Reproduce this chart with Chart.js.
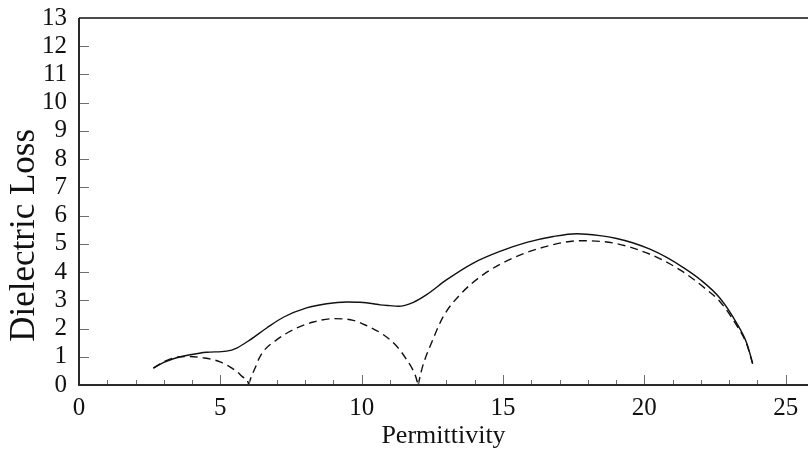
<!DOCTYPE html>
<html>
<head>
<meta charset="utf-8">
<script src="https://cdn.jsdelivr.net/npm/chart.js@4"></script>
<style>
  html, body { margin: 0; padding: 0; background: #ffffff; }
  #wrap { width: 808px; height: 455px; }
  .fontprobe { position: absolute; left: -9999px; font-family: 'Liberation Serif'; }
</style>
</head>
<body>
<span class="fontprobe">0123456789 Permittivity Dielectric Loss</span>
<div id="wrap"><canvas id="c" width="808" height="455"></canvas></div>
<script>
// Cole-Cole plot: total response (solid) and its three relaxation arcs (dashed)
const totalX = [2.63, 3.00, 3.34, 3.93, 4.52, 5.22, 5.58, 6.05, 6.64, 7.23, 8.05, 8.76, 9.47, 9.94, 10.41, 10.65, 11.00, 11.30, 11.83, 12.30, 13.01, 13.95, 14.89, 15.84, 16.78, 17.61, 18.43, 19.02, 19.61, 20.20, 20.79, 21.38, 21.97, 22.67, 23.26, 23.62, 23.83];
const totalY = [0.60, 0.80, 0.93, 1.07, 1.16, 1.20, 1.31, 1.60, 2.02, 2.40, 2.73, 2.88, 2.94, 2.93, 2.88, 2.84, 2.81, 2.79, 2.93, 3.20, 3.73, 4.32, 4.73, 5.05, 5.26, 5.36, 5.29, 5.19, 5.03, 4.81, 4.52, 4.16, 3.74, 3.08, 2.20, 1.49, 0.78];

const arc1X = [2.63, 3.00, 3.34, 3.81, 4.40, 4.99, 5.58, 5.80, 5.99, 6.00];
const arc1Y = [0.60, 0.82, 0.96, 1.01, 0.96, 0.82, 0.48, 0.28, 0.07, 0.00];

const arc2X = [6.00, 6.08, 6.23, 6.35, 6.52, 6.99, 7.58, 8.29, 9.00, 9.70, 10.18, 10.77, 11.24, 11.59, 11.89, 12.00];
const arc2Y = [0.00, 0.25, 0.60, 0.90, 1.19, 1.60, 1.96, 2.23, 2.35, 2.29, 2.10, 1.78, 1.37, 0.90, 0.36, 0.00];

const arc3X = [12.00, 12.10, 12.20, 12.42, 12.89, 13.48, 14.30, 15.36, 16.54, 17.72, 18.90, 20.08, 21.26, 22.20, 22.67, 23.26, 23.62, 23.83];
const arc3Y = [0.00, 0.45, 0.80, 1.37, 2.43, 3.20, 3.91, 4.50, 4.91, 5.11, 5.03, 4.68, 4.08, 3.38, 2.96, 2.12, 1.45, 0.75];

const xTicks = [0, 5, 10, 15, 20, 25];
const yTicks = [0, 1, 2, 3, 4, 5, 6, 7, 8, 9, 10, 11, 12, 13];

const xTitle = 'Permittivity';
const yTitle = 'Dielectric Loss';

function pts(xs, ys) { return xs.map((x, i) => ({ x: x, y: ys[i] })); }

const FONT = "'Liberation Serif', 'Times New Roman', Times, serif";

const lineStyle = {
  showLine: true,
  pointRadius: 0,
  borderColor: '#111111',
  borderWidth: 1.4,
  fill: false,
  cubicInterpolationMode: 'monotone'
};
const DASH = [8, 5];

// Frame: heavy left/bottom axes, top rule, inward ticks, vertical axis title
const framePlugin = {
  id: 'frame',
  afterDatasetsDraw(chart) {
    const { ctx, chartArea: a, scales } = chart;
    const xs = scales.x, ys = scales.y;
    ctx.save();
    ctx.lineCap = 'butt';
    ctx.strokeStyle = '#6e6e6e';
    ctx.lineWidth = 1;
    for (let v = 1; v <= 25; v++) {
      const px = Math.round(xs.getPixelForValue(v)) + 0.5;
      const len = (v % 5 === 0) ? 10 : 5;
      ctx.beginPath();
      ctx.moveTo(px, a.bottom);
      ctx.lineTo(px, a.bottom - len);
      ctx.stroke();
    }
    yTicks.forEach(v => {
      if (v === 0 || v === 13) return;
      const py = Math.round(ys.getPixelForValue(v)) + 0.5;
      ctx.beginPath();
      ctx.moveTo(a.left, py);
      ctx.lineTo(a.left + 10, py);
      ctx.stroke();
    });
    ctx.strokeStyle = '#2a2a2a';
    ctx.lineWidth = 2;
    ctx.beginPath();
    ctx.moveTo(a.left, a.top);
    ctx.lineTo(a.left, a.bottom);
    ctx.lineTo(a.right, a.bottom);
    ctx.stroke();
    ctx.strokeStyle = '#111111';
    ctx.lineWidth = 1.5;
    ctx.beginPath();
    ctx.moveTo(a.left, a.top);
    ctx.lineTo(a.right, a.top);
    ctx.stroke();

    // vertical axis title, centred a little below the middle of the axis
    ctx.fillStyle = '#111111';
    ctx.font = '35px ' + FONT;
    ctx.textAlign = 'center';
    ctx.textBaseline = 'alphabetic';
    ctx.translate(34, ys.getPixelForValue(5.3));
    ctx.rotate(-Math.PI / 2);
    ctx.fillText(yTitle, 0, 0);
    ctx.restore();
  }
};

function draw() {
  new Chart(document.getElementById('c'), {
    type: 'scatter',
    data: {
      datasets: [
        Object.assign({ label: 'Total', data: pts(totalX, totalY) }, lineStyle),
        Object.assign({ label: 'Arc 1', data: pts(arc1X, arc1Y) }, lineStyle, { borderDash: DASH }),
        Object.assign({ label: 'Arc 2', data: pts(arc2X, arc2Y) }, lineStyle, { borderDash: DASH }),
        Object.assign({ label: 'Arc 3', data: pts(arc3X, arc3Y) }, lineStyle, { borderDash: DASH })
      ]
    },
    options: {
      responsive: false,
      animation: false,
      events: [],
      layout: { padding: { top: 18, right: 0, bottom: 0, left: 0 } },
      plugins: { legend: { display: false }, tooltip: { enabled: false } },
      scales: {
        x: {
          type: 'linear',
          min: 0,
          max: 25.79,
          grid: { display: false, drawTicks: false },
          border: { display: false },
          afterBuildTicks(scale) { scale.ticks = xTicks.map(v => ({ value: v })); },
          ticks: { color: '#111', font: { family: FONT, size: 25 }, padding: 8, maxRotation: 0, autoSkip: false },
          title: { display: true, text: xTitle, color: '#111', font: { family: FONT, size: 26 }, padding: { top: 0, bottom: 3 } },
          afterFit(scale) { scale.height = 70; scale.paddingLeft = 0; scale.paddingRight = 0; }
        },
        y: {
          type: 'linear',
          min: 0,
          max: 13,
          grid: { display: false, drawTicks: false },
          border: { display: false },
          afterBuildTicks(scale) { scale.ticks = yTicks.map(v => ({ value: v })); },
          ticks: { color: '#111', font: { family: FONT, size: 25 }, padding: 12, autoSkip: false },
          title: { display: false, text: yTitle },
          afterFit(scale) { scale.width = 79; scale.paddingTop = 0; scale.paddingBottom = 0; }
        }
      }
    },
    plugins: [framePlugin]
  });
}

if (document.fonts && document.fonts.load) {
  Promise.all([
    document.fonts.load("25px 'Liberation Serif'"),
    document.fonts.load("35px 'Liberation Serif'")
  ]).then(draw, draw);
} else {
  draw();
}
</script>
</body>
</html>
